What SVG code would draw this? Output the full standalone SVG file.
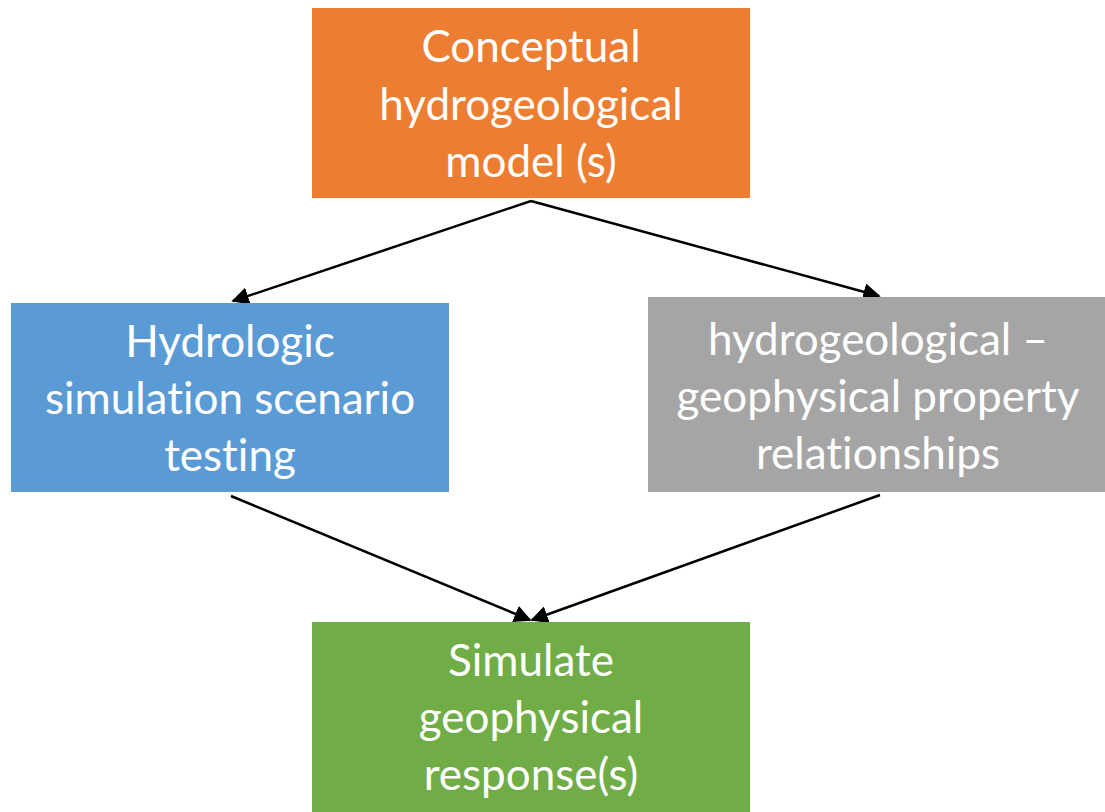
<svg xmlns="http://www.w3.org/2000/svg" width="1105" height="812" viewBox="0 0 1105 812">
  <style>
    .lbl { font-family: Lato, "Open Sans", "Liberation Sans", sans-serif; font-size: 44px; fill: #ffffff; text-anchor: middle; font-variant-ligatures: none; }
    .edge { stroke: #000000; stroke-width: 2.5; fill: none; marker-end: url(#arrow); }
  </style>
  <defs>
    <marker id="arrow" viewBox="0 0 10 10" refX="9" refY="5" markerWidth="7" markerHeight="7" markerUnits="strokeWidth" orient="auto">
      <path d="M0,0 L10,5 L0,10 Z" fill="#000000"/>
    </marker>
  </defs>
  <rect width="1105" height="812" fill="#ffffff"/>

  <g id="connectors">
    <line class="edge" x1="531" y1="201" x2="233" y2="301"/>
    <line class="edge" x1="531" y1="201" x2="879" y2="296"/>
    <line class="edge" x1="231" y1="496" x2="530" y2="620"/>
    <line class="edge" x1="880" y1="495" x2="532" y2="620"/>
  </g>

  <g id="conceptual-model">
    <rect x="312" y="8" width="438" height="190" fill="#ED7D31"/>
    <text class="lbl" x="531" y="62">Conceptual</text>
    <text class="lbl" x="531" y="120">hydrogeological</text>
    <text class="lbl" x="531" y="177">model (s)</text>
  </g>

  <g id="hydrologic-simulation">
    <rect x="11" y="303" width="438" height="189" fill="#5B9BD5"/>
    <text class="lbl" x="230" y="357">Hydrologic</text>
    <text class="lbl" x="230" y="414">simulation scenario</text>
    <text class="lbl" x="230" y="471">testing</text>
  </g>

  <g id="property-relationships">
    <rect x="648" y="297" width="457" height="195" fill="#A5A5A5"/>
    <text class="lbl" x="878" y="355">hydrogeological –</text>
    <text class="lbl" x="878" y="412">geophysical property</text>
    <text class="lbl" x="878" y="469">relationships</text>
  </g>

  <g id="geophysical-response">
    <rect x="312" y="622" width="438" height="190" fill="#70AD47"/>
    <text class="lbl" x="531" y="676">Simulate</text>
    <text class="lbl" x="531" y="733">geophysical</text>
    <text class="lbl" x="531" y="790">response(s)</text>
  </g>
</svg>
